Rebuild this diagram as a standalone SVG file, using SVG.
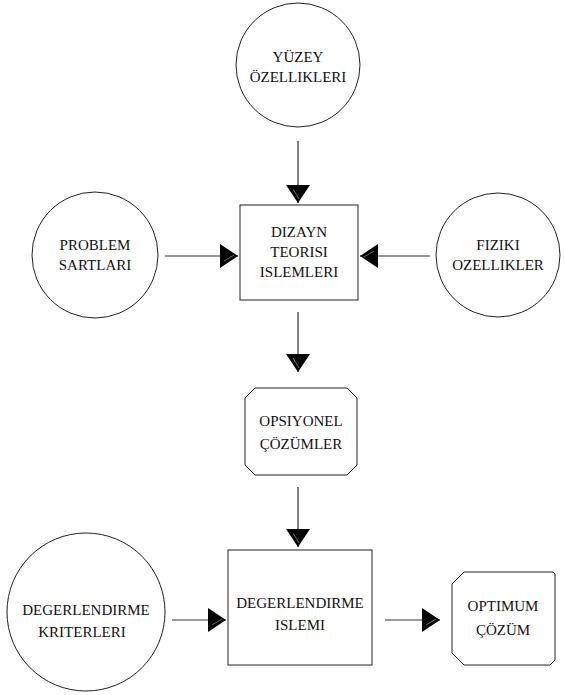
<svg xmlns="http://www.w3.org/2000/svg" width="565" height="695" viewBox="0 0 565 695">
<style>
.shape{fill:#fff;stroke:#222;stroke-width:1}
.lbl{font-family:'Liberation Serif','Times New Roman','DejaVu Serif',serif;font-size:15px;fill:#111;text-anchor:middle}
.wire{stroke:#333;stroke-width:1.2;fill:none}
</style>
<defs>
<marker id="ah" viewBox="0 0 18 24" refX="18" refY="12" markerWidth="18" markerHeight="24" markerUnits="userSpaceOnUse" orient="auto">
<path d="M0,0 L18,12 L0,24 Z" fill="#000"/>
<path d="M4,17 L14,11" stroke="#888" stroke-width="0.8"/>
</marker>
</defs>
<rect width="565" height="695" fill="#fff"/>
<g id="yuzey">
<circle class="shape" cx="298" cy="65" r="62"/>
<text class="lbl" font-family="Liberation Serif, serif" x="298" y="62">YÜZEY</text>
<text class="lbl" font-family="Liberation Serif, serif" x="298" y="82">ÖZELLIKLERI</text>
</g>
<g id="problem">
<circle class="shape" cx="95" cy="255" r="63"/>
<text class="lbl" font-family="Liberation Serif, serif" x="95" y="250">PROBLEM</text>
<text class="lbl" font-family="Liberation Serif, serif" x="95" y="270">SARTLARI</text>
</g>
<g id="fiziki">
<circle class="shape" cx="498" cy="255" r="62"/>
<text class="lbl" font-family="Liberation Serif, serif" x="498" y="250">FIZIKI</text>
<text class="lbl" font-family="Liberation Serif, serif" x="498" y="270">OZELLIKLER</text>
</g>
<g id="dizayn">
<rect class="shape" x="240" y="205" width="118" height="95"/>
<text class="lbl" font-family="Liberation Serif, serif" x="299" y="237">DIZAYN</text>
<text class="lbl" font-family="Liberation Serif, serif" x="299" y="257">TEORISI</text>
<text class="lbl" font-family="Liberation Serif, serif" x="299" y="277">ISLEMLERI</text>
</g>
<g id="opsiyonel">
<path class="shape" d="M255,388 L347,388 L357,398 L357,465 L347,475 L255,475 L245,465 L245,398 Z"/>
<text class="lbl" font-family="Liberation Serif, serif" x="301" y="426">OPSIYONEL</text>
<text class="lbl" font-family="Liberation Serif, serif" x="301" y="449">ÇÖZÜMLER</text>
</g>
<g id="kriterleri">
<circle class="shape" cx="86" cy="612" r="79"/>
<text class="lbl" font-family="Liberation Serif, serif" x="86" y="615">DEGERLENDIRME</text>
<text class="lbl" font-family="Liberation Serif, serif" x="82" y="637">KRITERLERI</text>
</g>
<g id="islemi">
<rect class="shape" x="228" y="550" width="144" height="115"/>
<text class="lbl" font-family="Liberation Serif, serif" x="300" y="608">DEGERLENDIRME</text>
<text class="lbl" font-family="Liberation Serif, serif" x="300" y="630">ISLEMI</text>
</g>
<g id="optimum">
<path class="shape" d="M464,572 L553,572 L555,574 L555,660 L550,665 L464,665 L452,653 L452,584 Z"/>
<text class="lbl" font-family="Liberation Serif, serif" x="503" y="611">OPTIMUM</text>
<text class="lbl" font-family="Liberation Serif, serif" x="503" y="635">ÇÖZÜM</text>
</g>
<g id="connectors">
<line class="wire" x1="298" y1="141" x2="298" y2="203" marker-end="url(#ah)"/>
<line class="wire" x1="165" y1="256" x2="238" y2="256" marker-end="url(#ah)"/>
<line class="wire" x1="430" y1="256" x2="360" y2="256" marker-end="url(#ah)"/>
<line class="wire" x1="298" y1="312" x2="298" y2="372" marker-end="url(#ah)"/>
<line class="wire" x1="298" y1="487" x2="298" y2="547" marker-end="url(#ah)"/>
<line class="wire" x1="172" y1="620" x2="226" y2="620" marker-end="url(#ah)"/>
<line class="wire" x1="385" y1="620" x2="440" y2="620" marker-end="url(#ah)"/>
</g>
</svg>
